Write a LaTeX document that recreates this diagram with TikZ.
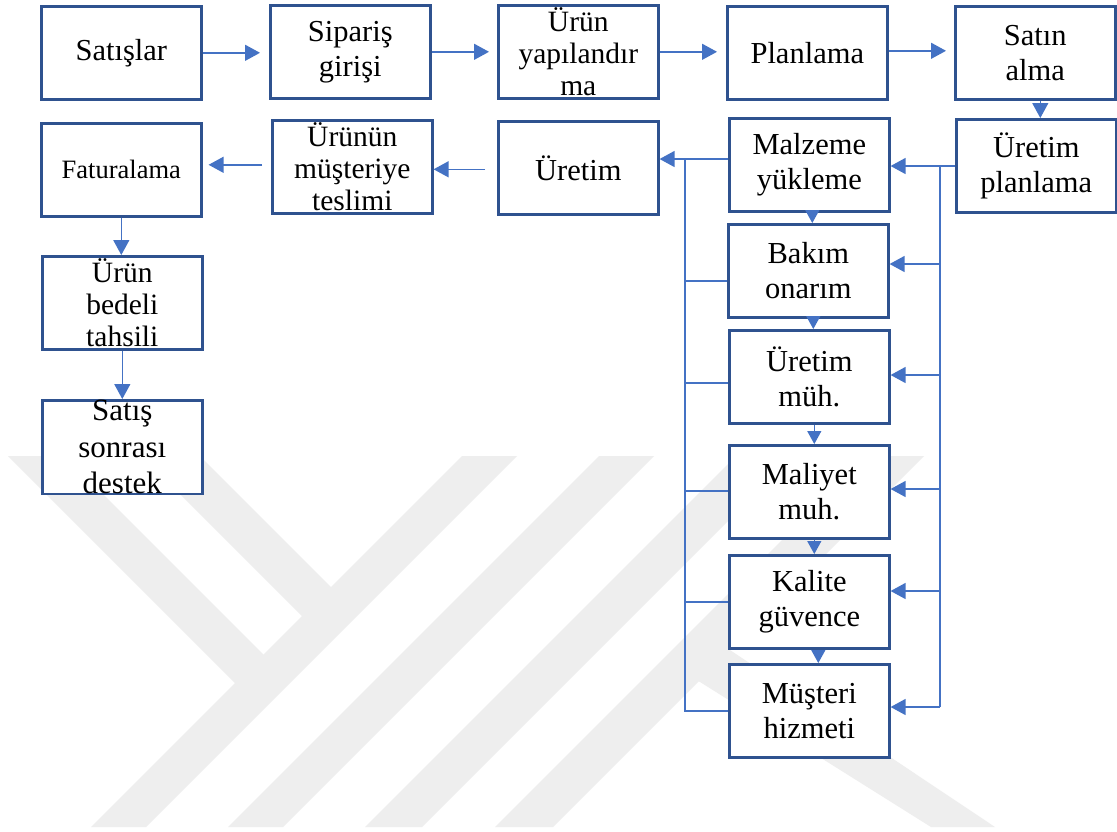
\documentclass[tikz,border=0pt]{standalone}
\usepackage{fontspec}
\setmainfont{Liberation Serif}
\usetikzlibrary{arrows.meta}
\definecolor{boxline}{HTML}{2F528F}
\definecolor{linkblue}{HTML}{4472C4}
\definecolor{wmgray}{HTML}{EEEEEE}
\begin{document}
\begin{tikzpicture}[x=1pt,y=-1pt,
  box/.style={draw=boxline, line width=2.6pt, fill=white, minimum width=160pt,
    minimum height=93pt, inner sep=0pt, align=center, anchor=north west,
    font=\fontsize{30.5}{35}\selectfont},
  small/.style={font=\fontsize{29.5}{32}\selectfont},
  link/.style={draw=linkblue, line width=1.4pt},
  arr/.style={link, -{Triangle[length=15pt,width=16pt]}},
  sarr/.style={link, -{Triangle[length=13pt,width=14pt]}},
]
\useasboundingbox (0,0) rectangle (1117,831);
\fill[white] (0,0) rectangle (1117,831);

% faint background emblem made of slanted bands
\begin{scope}
  \clip (0,456) rectangle (1117,827);
  \fill[wmgray] (462,456) -- (517,456) -- (146,827) -- (91,827) -- cycle;
  \fill[wmgray] (8,456) -- (65,456) -- (274.5,665.5) -- (246,694) -- cycle;
  \fill[wmgray] (142,456) -- (200,456) -- (342,598) -- (313,627) -- cycle;
  \fill[wmgray] (599,456) -- (654,456) -- (283,827) -- (228,827) -- cycle;
  \fill[wmgray] (736,456) -- (793,456) -- (422,827) -- (365,827) -- cycle;
  \fill[wmgray] (866,456) -- (924,456) -- (553,827) -- (495,827) -- cycle;
  \fill[wmgray] (665,660) -- (700,630) -- (995,827) -- (931,827) -- cycle;
\end{scope}

% process boxes
\node[box] (sat) at (40,5) {Satışlar};
\node[box] (sip) at (269,4) {Sipariş\\girişi};
\node[box,small] (ury) at (497,4) {Ürün\\yapılandır\\ma};
\node[box] (pln) at (726,5) {Planlama};
\node[box] (stn) at (954,5) {Satın\\alma};
\node[box,font=\fontsize{26.5}{30}\selectfont] (fat) at (40,122) {Faturalama};
\node[box,small] (tes) at (271,119) {Ürünün\\müşteriye\\teslimi};
\node[box] (ure) at (497,120) {Üretim};
\node[box] (mlz) at (728,117) {Malzeme\\yükleme};
\node[box] (upl) at (955,118) {Üretim\\planlama};
\node[box] (bak) at (727,223) {Bakım\\onarım};
\node[box] (umh) at (728,329) {Üretim\\müh.};
\node[box] (mal) at (728,444) {Maliyet\\muh.};
\node[box] (kal) at (728,554) {Kalite\\güvence};
\node[box] (mus) at (728,663) {Müşteri\\hizmeti};
\node[box,small] (bed) at (41,255) {Ürün\\bedeli\\tahsili};
\node[box,font=\fontsize{31}{36.5}\selectfont] (sss) at (41,399) {Satış\\sonrası\\destek};

% top row flow
\draw[arr] (sat.east) -- ([xshift=-9pt]sat.east -| sip.west);
\draw[arr] (sip.east) -- ([xshift=-8pt]sip.east -| ury.west);
\draw[arr] (ury.east) -- ([xshift=-9pt]ury.east -| pln.west);
\draw[arr] ([yshift=2pt]pln.east) -- ([xshift=-8pt,yshift=2pt]pln.east -| stn.west);
\draw[arr] ([xshift=5pt]stn.south) -- ([xshift=5pt]stn.south |- upl.north);

% right distribution bus
\coordinate (rtop) at (940,166);
\coordinate (rbot) at (940,707);
\coordinate (rb-bak) at (940,264);
\coordinate (rb-umh) at (940,375);
\coordinate (rb-mal) at (940,489);
\coordinate (rb-kal) at (940,591);
\draw[arr] (upl.west |- rtop) -- (mlz.east |- rtop);
\draw[link] (rtop) -- (rbot);
\draw[arr] (rbot) -- (rbot -| mus.east);
\draw[arr] (rb-bak) -- (rb-bak -| bak.east);
\draw[arr] (rb-umh) -- (rb-umh -| umh.east);
\draw[arr] (rb-mal) -- (rb-mal -| mal.east);
\draw[arr] (rb-kal) -- (rb-kal -| kal.east);

% left collection bus
\coordinate (ltop) at (685,159);
\coordinate (lbot) at (685,711);
\coordinate (lb-bak) at (685,281);
\coordinate (lb-umh) at (685,383);
\coordinate (lb-mal) at (685,491);
\coordinate (lb-kal) at (685,602);
\draw[arr] (mlz.west |- ltop) -- (ure.east |- ltop);
\draw[link] (ltop) -- (lbot) -- (lbot -| mus.west);
\draw[link] (lb-bak -| bak.west) -- (lb-bak);
\draw[link] (lb-umh -| umh.west) -- (lb-umh);
\draw[link] (lb-mal -| mal.west) -- (lb-mal);
\draw[link] (lb-kal -| kal.west) -- (lb-kal);

% column chain
\draw[sarr] ([xshift=3pt]mlz.south) -- ([xshift=3pt]mlz.south |- bak.north);
\draw[sarr] ([xshift=5pt]bak.south) -- ([xshift=5pt]bak.south |- umh.north);
\draw[sarr] ([xshift=5pt]umh.south) -- ([xshift=5pt]umh.south |- mal.north);
\draw[sarr] ([xshift=5pt]mal.south) -- ([xshift=5pt]mal.south |- kal.north);
\draw[sarr] ([xshift=9pt]kal.south) -- ([xshift=9pt]kal.south |- mus.north);

% delivery and billing
\draw[arr] ([xshift=-12pt,yshift=-1.5pt]ure.west) -- ([yshift=-1.5pt]ure.west -| tes.east);
\draw[arr] ([xshift=-9pt,yshift=2pt]tes.west) -- ([xshift=6pt,yshift=2pt]tes.west -| fat.east);
\draw[arr] (fat.south) -- (fat.south |- bed.north);
\draw[arr] (bed.south) -- (bed.south |- sss.north);
\end{tikzpicture}
\end{document}
